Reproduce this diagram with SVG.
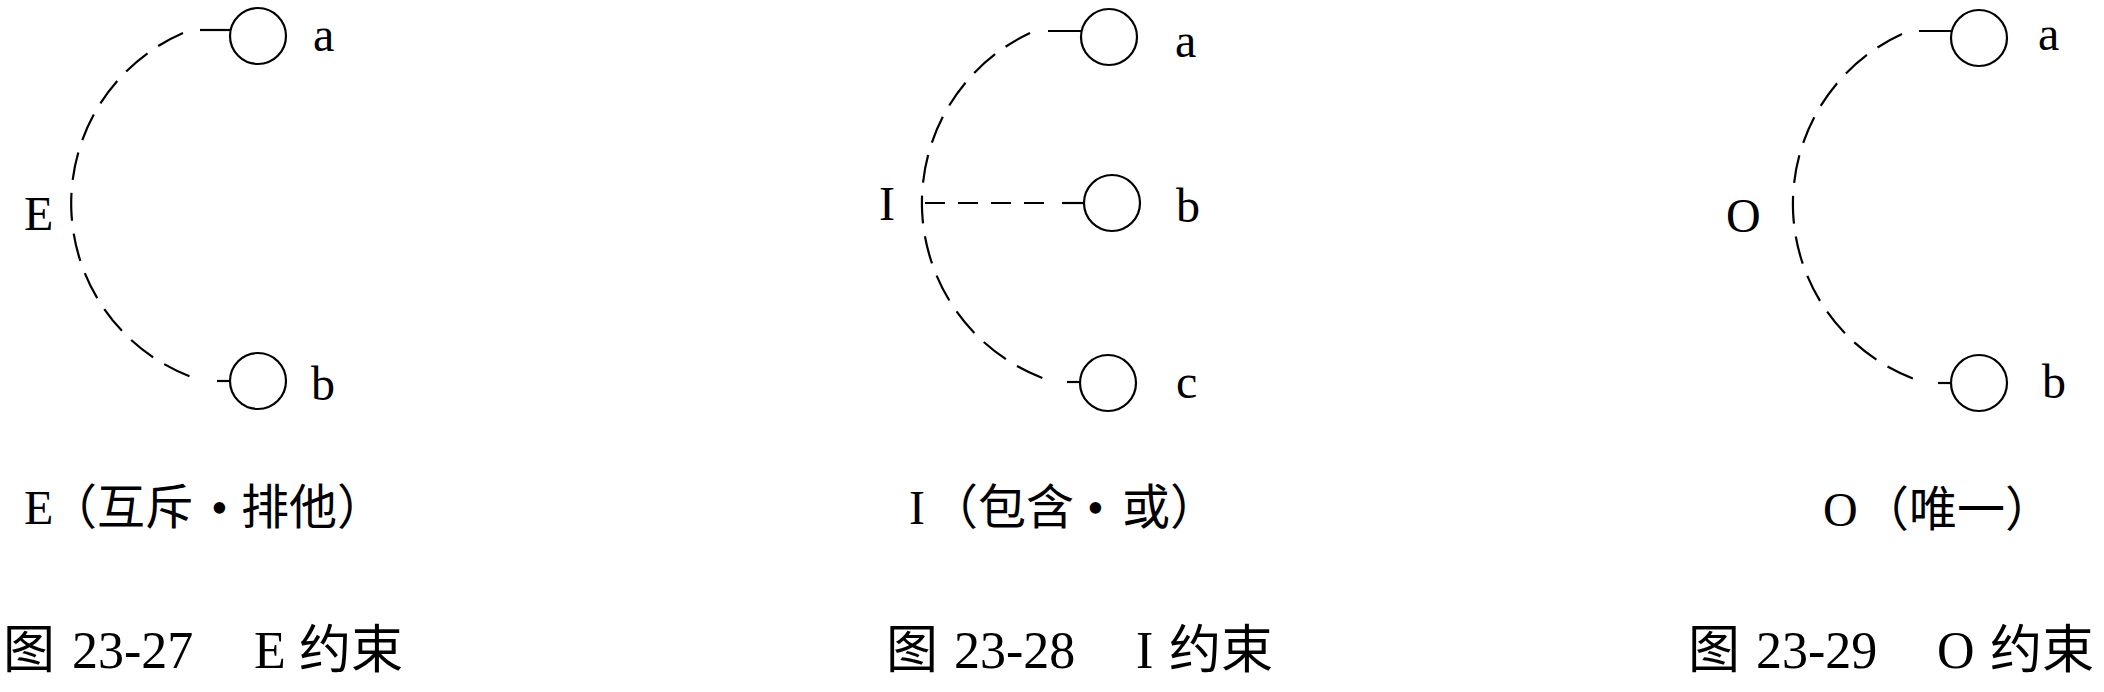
<svg xmlns="http://www.w3.org/2000/svg" width="2104" height="692" viewBox="0 0 2104 692">
<style>
.node{fill:#fff;stroke:#000;stroke-width:2.2}
.arc{fill:none;stroke:#000;stroke-width:2.2;stroke-dasharray:28 13}
.hd{fill:none;stroke:#000;stroke-width:2.2;stroke-dasharray:20 13}
.stub{fill:none;stroke:#000;stroke-width:2.2}
.lbl{font-family:"Liberation Serif","Noto Sans CJK SC",serif;font-size:48px;fill:#000}
.sub{font-family:"Liberation Serif","Noto Sans CJK SC",serif;font-size:48px;fill:#000}
.cap{font-family:"Liberation Serif","Noto Sans CJK SC",serif;font-size:52px;fill:#000}
</style>
<rect width="2104" height="692" fill="#fff"/>
<g id="connectors">
<path class="arc" d="M183 33 A185.6 185.6 0 0 0 200 380"/>
<path class="stub" d="M200 30 H231"/>
<path class="stub" d="M217 381 H230"/>
<path class="arc" d="M1030 33 A187.5 187.5 0 0 0 1048 380"/>
<path class="stub" d="M1048 31 H1082"/>
<path class="hd" d="M925 203 H1044"/>
<path class="stub" d="M1062 203 H1084"/>
<path class="stub" d="M1067 382 H1080"/>
<path class="arc" d="M1902 34 A186.9 186.9 0 0 0 1920 381"/>
<path class="stub" d="M1919 31 H1952"/>
<path class="stub" d="M1938 383 H1951"/>
</g>
<g id="E-constraint">
<text class="lbl" x="24" y="230">E</text>
</g>
<g id="E-a"><circle class="node" cx="258" cy="36" r="28"/><text class="lbl" x="313" y="51">a</text></g>
<g id="E-b"><circle class="node" cx="258" cy="381" r="28"/><text class="lbl" x="311" y="400">b</text></g>
<g id="I-constraint">
<text class="lbl" x="879" y="220">I</text>
</g>
<g id="I-a"><circle class="node" cx="1109" cy="37" r="28"/><text class="lbl" x="1175" y="57">a</text></g>
<g id="I-b"><circle class="node" cx="1112" cy="203" r="28"/><text class="lbl" x="1176" y="222">b</text></g>
<g id="I-c"><circle class="node" cx="1108" cy="383" r="28"/><text class="lbl" x="1176" y="398">c</text></g>
<g id="O-constraint">
<text class="lbl" x="1726" y="232">O</text>
</g>
<g id="O-a"><circle class="node" cx="1979" cy="38" r="28"/><text class="lbl" x="2038" y="50">a</text></g>
<g id="O-b"><circle class="node" cx="1979" cy="383" r="28"/><text class="lbl" x="2042" y="398">b</text></g>
<g id="subtitles">
<text class="sub" x="24 49 97 145 211 241 289 337" y="524">E（互斥•排他）</text>
<text class="sub" x="909 930 978 1026 1087 1122 1170" y="524">I（包含•或）</text>
<text class="sub" x="1823 1861 1909 1957 2005" y="526">O（唯一）</text>
</g>
<g id="captions">
<text class="cap" y="668"><tspan x="3">图 </tspan><tspan x="72">23-27 </tspan><tspan x="254">E </tspan><tspan x="299">约束</tspan></text>
<text class="cap" y="668"><tspan x="886">图 </tspan><tspan x="954">23-28 </tspan><tspan x="1136">I </tspan><tspan x="1169">约束</tspan></text>
<text class="cap" y="668"><tspan x="1688">图 </tspan><tspan x="1756">23-29 </tspan><tspan x="1937">O </tspan><tspan x="1990">约束</tspan></text>
</g>
</svg>
